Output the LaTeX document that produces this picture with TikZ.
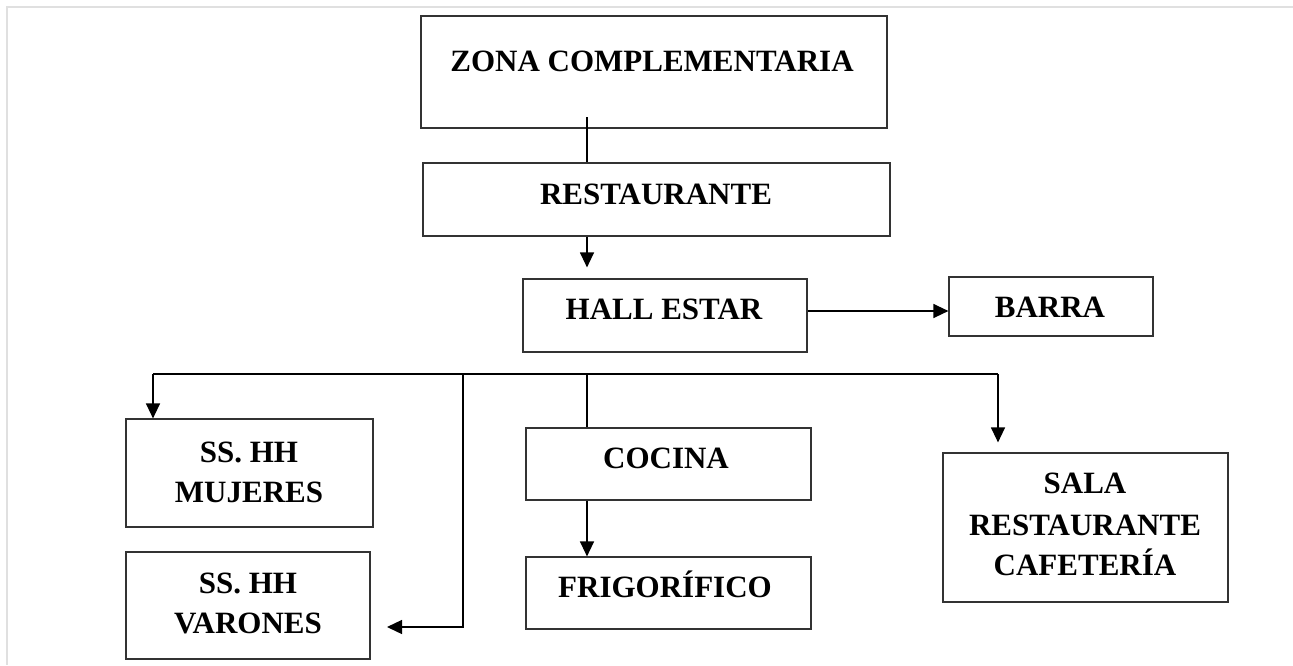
\documentclass[tikz,border=0pt]{standalone}
\usepackage{fontspec}
\setmainfont{Liberation Serif}
\usetikzlibrary{arrows.meta,calc}
\begin{document}
\begin{tikzpicture}[x=1pt,y=-1pt,
  box/.style={draw=black!80,line width=1.2pt,inner sep=0pt,minimum width=#1},
  lbl/.style={anchor=base,inner sep=0pt,font=\bfseries\fontsize{31}{40}\selectfont},
  con/.style={draw=black,line width=1.3pt},
  arr/.style={con,-{Triangle[length=15pt,width=14pt]}}]
\useasboundingbox (0,0) rectangle (1293,665);
\draw[black!12,line width=1.5pt] (7,665) -- (7,7) -- (1293,7);
% boxes
\node[box=466pt,minimum height=112pt] (zona) at (654,72) {};
\node[box=467pt,minimum height=73pt] (rest) at (656.5,199.5) {};
\node[box=284pt,minimum height=73pt] (hall) at (665,315.5) {};
\node[box=204pt,minimum height=59pt] (barra) at (1051,306.5) {};
\node[box=247pt,minimum height=108pt] (muj) at (249.5,473) {};
\node[box=244pt,minimum height=107pt] (var) at (248,605.5) {};
\node[box=285pt,minimum height=72pt] (coc) at (668.5,464) {};
\node[box=285pt,minimum height=72pt] (frig) at (668.5,593) {};
\node[box=285pt,minimum height=149pt] (sala) at (1085.5,527.5) {};
% labels
\node[lbl] (zonaT) at (652,71) {ZONA COMPLEMENTARIA};
\node[lbl] (restT) at (656,204) {RESTAURANTE};
\node[lbl] (hallT) at (664,319) {HALL ESTAR};
\node[lbl] (barraT) at (1050,317) {BARRA};
\node[lbl] (mujT1) at (249,462) {SS. HH};
\node[lbl] (mujT2) at (249,502) {MUJERES};
\node[lbl] (varT1) at (248,593) {SS. HH};
\node[lbl] (varT2) at (248,633) {VARONES};
\node[lbl] (cocT) at (666,468) {COCINA};
\node[lbl] (frigT) at (665,597) {FRIGORÍFICO};
\node[lbl] (salaT1) at (1085,493) {SALA};
\node[lbl] (salaT2) at (1085,535) {RESTAURANTE};
\node[lbl] (salaT3) at (1085,575) {CAFETERÍA};
% coordinates
\coordinate (c1) at (587,117);
\coordinate (yb) at (0,311);
\coordinate (busL) at (153,374);
\coordinate (busV) at (463,374);
\coordinate (busC) at (587,374);
\coordinate (busR) at (998,374);
\coordinate (vtip) at (387,627);
% connectors
\draw[con] (c1) -- (c1 |- rest.north);
\draw[arr] (rest.south -| c1) -- ($(hall.north -| c1)+(0,-11)$);
\draw[arr] (hall.east |- yb) -- (barra.west |- yb);
\draw[con] (busL) -- (busR);
\draw[arr] (busL) -- (busL |- muj.north);
\draw[arr] (busV) |- (vtip);
\draw[con] (busC) -- (busC |- coc.north);
\draw[arr] (coc.south -| busC) -- (frig.north -| busC);
\draw[arr] (busR) -- ($(sala.north -| busR)+(0,-10)$);
\end{tikzpicture}
\end{document}
